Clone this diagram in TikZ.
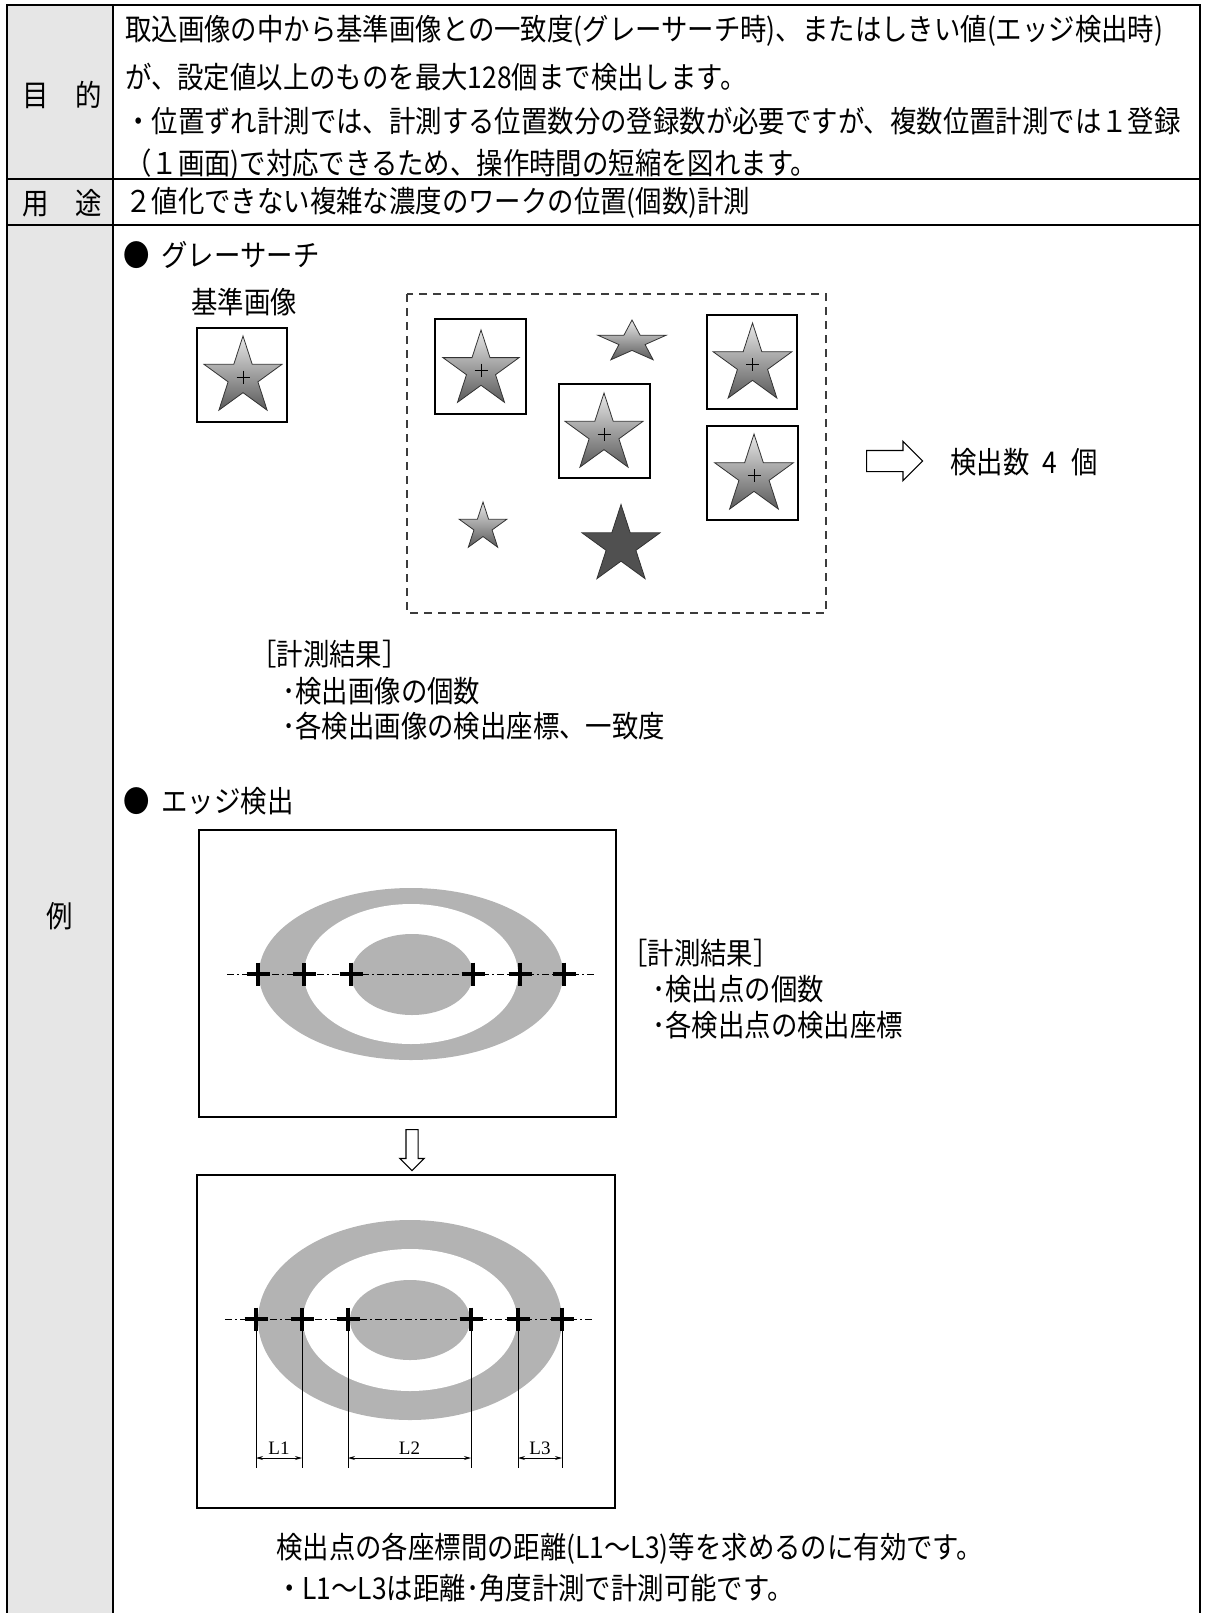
\documentclass[tikz,border=0pt]{standalone}
\usepackage{fontspec}
\usetikzlibrary{shapes.geometric,shapes.arrows,arrows.meta}
\newfontfamily\jp[FakeStretch=0.88]{Noto Sans CJK JP}
\newfontfamily\lab{Liberation Serif}
\definecolor{colgray}{RGB}{230,230,230}
\definecolor{ringgray}{RGB}{179,179,179}
\definecolor{startop}{RGB}{232,232,232}
\definecolor{starbot}{RGB}{90,90,90}
\definecolor{darkstar}{RGB}{80,80,80}
\definecolor{dashgray}{RGB}{60,60,60}
\tikzset{every picture/.style={x=1pt,y=-1pt}}
\tikzset{annot/.style={font=\jp\fontsize{30}{36}\selectfont,inner sep=0pt}}
\tikzset{dimlab/.style={font=\lab\fontsize{19}{22}\selectfont,inner sep=1pt}}
\tikzset{rule/.style={line width=2.4pt}}
\tikzset{thinrule/.style={line width=1.2pt}}
\tikzset{box/.style={draw,line width=1.2pt,inner sep=0pt}}
\tikzset{gstar/.style={star,star points=5,star point ratio=2.618,draw=black!80,line width=.8pt,top color=startop,bottom color=starbot,inner sep=0pt,minimum size=#1}}
\tikzset{dstar/.style={star,star points=5,star point ratio=2.618,draw=black!80,line width=.8pt,fill=darkstar,inner sep=0pt,minimum size=#1}}
\tikzset{plus/.style={line width=.9pt}}
\tikzset{edgemark/.style={line width=3.4pt}}
\tikzset{centerline/.style={line width=1pt,dash pattern=on 7pt off 3pt on 2pt off 3pt}}
\tikzset{ext/.style={line width=1pt}}
\tikzset{dim/.style={line width=.8pt,<->,>={Stealth[length=7pt,width=4pt]}}}
\tikzset{hollow/.style={single arrow,draw,line width=1.2pt,single arrow head indent=0pt}}

\begin{document}
\begin{tikzpicture}
\useasboundingbox (0,0) rectangle (1209,1613);
% table
\fill[colgray] (7,5) rectangle (113,1613);
\draw[thinrule] (7,179) -- (1200,179);
\draw[thinrule] (7,225) -- (1200,225);
\draw[rule] (7,1613) -- (7,5) -- (1200,5) -- (1200,1613);
\draw[rule] (113,5) -- (113,1613);

\node [annot] (mok) at (62,95) {目　的};
\node [annot] (yot) at (62,203) {用　途};
\node [annot] (rei) at (60,916) {例};

\node [annot,anchor=west] (p1) at (125,31) {取込画像の中から基準画像との一致度(グレーサーチ時)、またはしきい値(エッジ検出時)};
\node [annot,anchor=west] (p2) at (125,77) {が、設定値以上のものを最大128個まで検出します。};
\node [annot,anchor=west] (p3) at (125,121) {・位置ずれ計測では、計測する位置数分の登録数が必要ですが、複数位置計測では１登録};
\node [annot,anchor=west] (p4) at (125,165) {（１画面)で対応できるため、操作時間の短縮を図れます。};
\node [annot,anchor=west] (u1) at (125,203) {２値化できない複雑な濃度のワークの位置(個数)計測};

% gray search
\node [annot,anchor=west] (gs) at (123,255) {●\hspace{6pt} グレーサーチ};
\node [annot] (refl) at (244,302) {基準画像};
\node [box,minimum width=90,minimum height=94] (bref) at (242,375) {};
\node [gstar=82] (sref) at (243,377) {};
\draw [plus] (sref.center) +(-6.5,0) -- +(6.5,0) (sref.center) +(0,-6.5) -- +(0,6.5);

\draw [dashgray,line width=1.4pt,dash pattern=on 8pt off 6pt] (407,294) rectangle (826,613);

\node [box,minimum width=91,minimum height=95] (ba) at (480.5,366.5) {};
\node [box,minimum width=91,minimum height=94] (bb) at (604.5,431) {};
\node [box,minimum width=90,minimum height=94] (bc) at (752,362) {};
\node [box,minimum width=91,minimum height=94] (bd) at (752.5,473) {};
\node [gstar=80] (sa) at (481,370) {};
\node [gstar=82] (sb) at (604,434) {};
\node [gstar=83] (sc) at (752.5,364.5) {};
\node [gstar=83] (sd) at (754,475.5) {};
\draw [plus] (sa.center) +(-6.5,0) -- +(6.5,0) (sa.center) +(0,-6.5) -- +(0,6.5);
\draw [plus] (sb.center) +(-6.5,0) -- +(6.5,0) (sb.center) +(0,-6.5) -- +(0,6.5);
\draw [plus] (sc.center) +(-6.5,0) -- +(6.5,0) (sc.center) +(0,-6.5) -- +(0,6.5);
\draw [plus] (sd.center) +(-6.5,0) -- +(6.5,0) (sd.center) +(0,-6.5) -- +(0,6.5);

\node [gstar=50] (se) at (483,527) {};
\node [dstar=82] (sf) at (621,545.5) {};
% the flat one
\shade [draw=black!80,line width=.8pt,top color=startop,bottom color=starbot]
  plot[samples at={0,...,9}] ({632+36*(1-0.618*mod(\x,2))*cos(90+36*\x)},{342-22*(1-0.618*mod(\x,2))*sin(90+36*\x)}) -- cycle;

\node [hollow,inner sep=10pt,minimum height=56,single arrow head extend=9pt,anchor=tail] (arr) at (866,461) {};
\node [annot,anchor=west] (cnt) at (950,462) {検出数\hspace{0.45em}4\hspace{0.45em}個};

\node [annot,anchor=west] (res1) at (250,654) {［計測結果］};
\node [annot,anchor=west] (res1a) at (282,691) {･検出画像の個数};
\node [annot,anchor=west] (res1b) at (282,726) {･各検出画像の検出座標、一致度};

% edge detection
\node [annot,anchor=west] (es) at (123,801) {●\hspace{6pt} エッジ検出};
\node [box,minimum width=417,minimum height=287] (box1) at (407.5,973.5) {};
\fill [ringgray] (411,974) ellipse [x radius=152,y radius=86];
\fill [white] (411,974) ellipse [x radius=107,y radius=70];
\fill [ringgray] (412,974.5) ellipse [x radius=61,y radius=40.5];
\coordinate (e1) at (258,974);
\coordinate (e2) at (304,974);
\coordinate (e3) at (351,974);
\coordinate (e4) at (473,974);
\coordinate (e5) at (520,974);
\coordinate (e6) at (564,974);
\draw [centerline] (227,974) -- (595,974);
\draw [edgemark] (e1) +(-11.5,0) -- +(11.5,0) (e1) +(0,-11.5) -- +(0,11.5);
\draw [edgemark] (e2) +(-11.5,0) -- +(11.5,0) (e2) +(0,-11.5) -- +(0,11.5);
\draw [edgemark] (e3) +(-11.5,0) -- +(11.5,0) (e3) +(0,-11.5) -- +(0,11.5);
\draw [edgemark] (e4) +(-11.5,0) -- +(11.5,0) (e4) +(0,-11.5) -- +(0,11.5);
\draw [edgemark] (e5) +(-11.5,0) -- +(11.5,0) (e5) +(0,-11.5) -- +(0,11.5);
\draw [edgemark] (e6) +(-11.5,0) -- +(11.5,0) (e6) +(0,-11.5) -- +(0,11.5);

\node [annot,anchor=west] (res2) at (621,953) {［計測結果］};
\node [annot,anchor=west] (res2a) at (652,989) {･検出点の個数};
\node [annot,anchor=west] (res2b) at (652,1025) {･各検出点の検出座標};

\node [hollow,inner sep=5.5pt,minimum height=41,single arrow head extend=6pt,shape border rotate=270,anchor=tail] (darr) at (412,1129) {};

\node [box,minimum width=418,minimum height=333] (box2) at (406,1341.5) {};
\fill [ringgray] (410,1320) ellipse [x radius=152,y radius=100];
\fill [white] (410,1320) ellipse [x radius=107,y radius=71];
\fill [ringgray] (410,1320) ellipse [x radius=60,y radius=40];
\coordinate (f1) at (256,1319);
\coordinate (f2) at (302,1319);
\coordinate (f3) at (348,1319);
\coordinate (f4) at (471,1319);
\coordinate (f5) at (518,1319);
\coordinate (f6) at (562,1319);
\coordinate (dimy) at (0,1458);
\coordinate (exty) at (0,1468);
\draw [centerline] (225,1319) -- (593,1319);
\draw [ext] (f1) -- (f1 |- exty);
\draw [ext] (f2) -- (f2 |- exty);
\draw [ext] (f3) -- (f3 |- exty);
\draw [ext] (f4) -- (f4 |- exty);
\draw [ext] (f5) -- (f5 |- exty);
\draw [ext] (f6) -- (f6 |- exty);
\draw [edgemark] (f1) +(-11.5,0) -- +(11.5,0) (f1) +(0,-11.5) -- +(0,11.5);
\draw [edgemark] (f2) +(-11.5,0) -- +(11.5,0) (f2) +(0,-11.5) -- +(0,11.5);
\draw [edgemark] (f3) +(-11.5,0) -- +(11.5,0) (f3) +(0,-11.5) -- +(0,11.5);
\draw [edgemark] (f4) +(-11.5,0) -- +(11.5,0) (f4) +(0,-11.5) -- +(0,11.5);
\draw [edgemark] (f5) +(-11.5,0) -- +(11.5,0) (f5) +(0,-11.5) -- +(0,11.5);
\draw [edgemark] (f6) +(-11.5,0) -- +(11.5,0) (f6) +(0,-11.5) -- +(0,11.5);
\draw [dim] (f1 |- dimy) -- node[above=2pt,dimlab] (l1) {L1} (f2 |- dimy);
\draw [dim] (f3 |- dimy) -- node[above=2pt,dimlab] (l2) {L2} (f4 |- dimy);
\draw [dim] (f5 |- dimy) -- node[above=2pt,dimlab] (l3) {L3} (f6 |- dimy);

\node [annot,anchor=west] (b1) at (276,1549) {検出点の各座標間の距離(L1～L3)等を求めるのに有効です。};
\node [annot,anchor=west] (b2) at (276,1588) {・L1～L3は距離･角度計測で計測可能です。};
\end{tikzpicture}
\end{document}
